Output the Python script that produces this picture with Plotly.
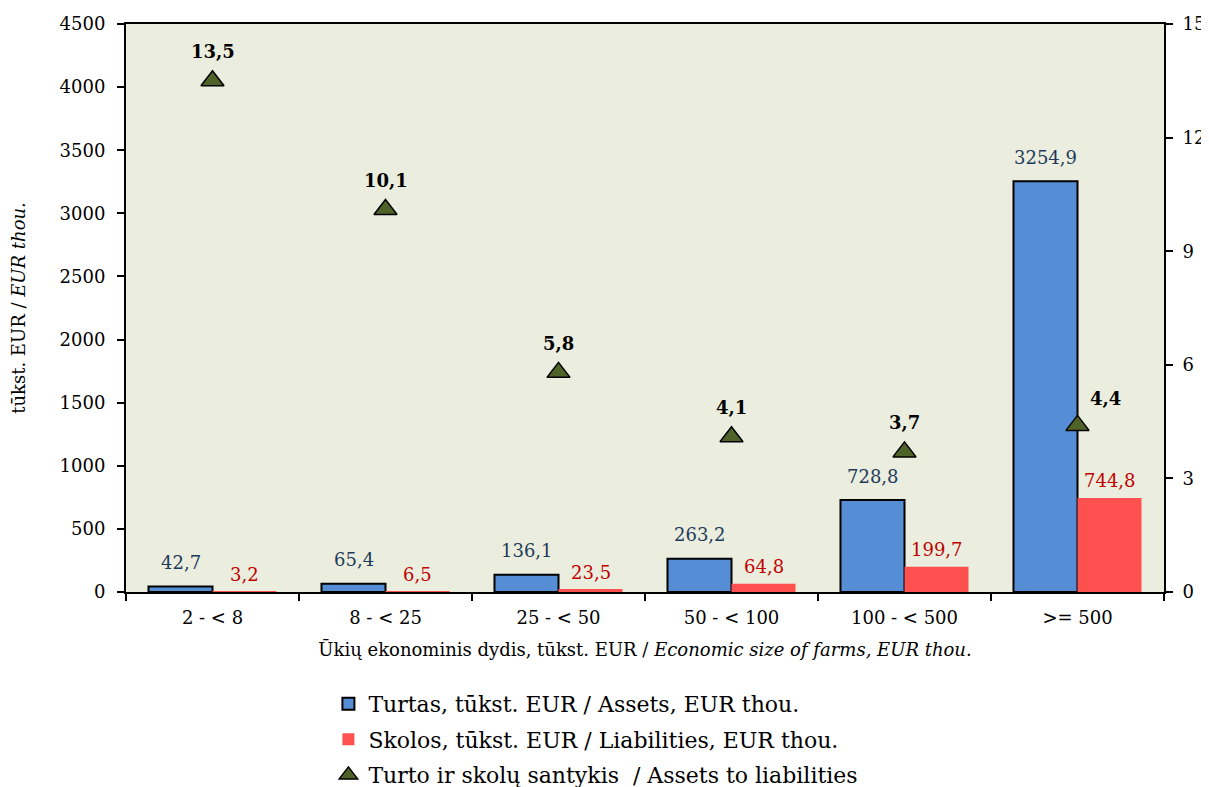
import plotly.graph_objects as go

categories = ["2 - < 8", "8 - < 25", "25 - < 50", "50 - < 100", "100 - < 500", ">= 500"]
assets = [42.7, 65.4, 136.1, 263.2, 728.8, 3254.9]
liabilities = [3.2, 6.5, 23.5, 64.8, 199.7, 744.8]
ratio = [13.5, 10.1, 5.8, 4.1, 3.7, 4.4]

def fmt(v):
    return f"{v:.1f}".replace(".", ",")

FONT = "DejaVu Serif"

fig = go.Figure()

fig.add_trace(go.Bar(
    x=categories, y=assets, name="Turtas, tūkst. EUR / Assets, EUR thou.",
    marker=dict(color="#558ED5", line=dict(color="black", width=2)),
    legendgroup="a",
))
fig.add_trace(go.Bar(
    x=categories, y=liabilities, name="Skolos, tūkst. EUR / Liabilities, EUR thou.",
    marker=dict(color="#FF5050", line=dict(color="#FF5050", width=0)),
    legendgroup="b",
))
fig.add_trace(go.Scatter(
    x=categories, y=ratio, yaxis="y2", mode="markers",
    name="Turto ir skolų santykis  / Assets to liabilities",
    marker=dict(symbol="triangle-up", size=20, color="#4F6228", line=dict(color="black", width=1.5)),
    legendgroup="c", cliponaxis=False,
))

# value labels
for c, v in zip(categories, assets):
    fig.add_annotation(x=c, y=v, text=fmt(v), showarrow=False, xshift=-32, yshift=24,
                       font=dict(color="#1F3A5A", size=18))
for c, v in zip(categories, liabilities):
    fig.add_annotation(x=c, y=v, text=fmt(v), showarrow=False, xshift=32, yshift=17,
                       font=dict(color="#C00000", size=18))
for i, (c, v) in enumerate(zip(categories, ratio)):
    last = i == len(ratio) - 1
    fig.add_annotation(x=c, y=v, yref="y2", text="<b>" + fmt(v) + "</b>", showarrow=False,
                       xshift=28 if last else 0, yshift=27 if last else 29,
                       font=dict(color="black", size=18))

# page has an 8px body margin, so the figure is sized to fit the window
fig.update_layout(
    width=1201, height=779,
    margin=dict(l=118, r=45, t=16, b=195, autoexpand=False),
    paper_bgcolor="white", plot_bgcolor="#EBEEDE",
    font=dict(family=FONT, size=18, color="black"),
    barmode="group", bargap=0.26, bargroupgap=0,
    showlegend=True,
    legend=dict(x=0.195, y=-0.16, xanchor="left", yanchor="top",
                font=dict(size=22), tracegroupgap=4, itemwidth=30,
                traceorder="grouped"),
    xaxis=dict(
        title=dict(text="Ūkių ekonominis dydis, tūkst. EUR / <i>Economic size of farms, EUR thou.</i>",
                   font=dict(size=18), standoff=17),
        showline=True, linecolor="black", linewidth=2, mirror=True,
        ticks="outside", tickcolor="black", ticklen=7, tickwidth=1.5,
        tickson="boundaries", showgrid=False, ticklabelstandoff=8, automargin=False,
    ),
    yaxis=dict(
        title=dict(text="tūkst. EUR / <i>EUR thou.</i>", font=dict(size=18), standoff=30),
        range=[0, 4500], dtick=500, showline=True, linecolor="black", linewidth=2,
        ticks="outside", tickcolor="black", ticklen=7, tickwidth=1.5, showgrid=False,
        zeroline=False, ticklabelstandoff=8, automargin=False,
    ),
    yaxis2=dict(
        range=[0, 15], dtick=3, overlaying="y", side="right",
        showline=True, linecolor="black", linewidth=2,
        ticks="outside", tickcolor="black", ticklen=7, tickwidth=1.5, showgrid=False,
        zeroline=False, ticklabelstandoff=6, automargin=False,
    ),
)

fig.write_html("out.html")
